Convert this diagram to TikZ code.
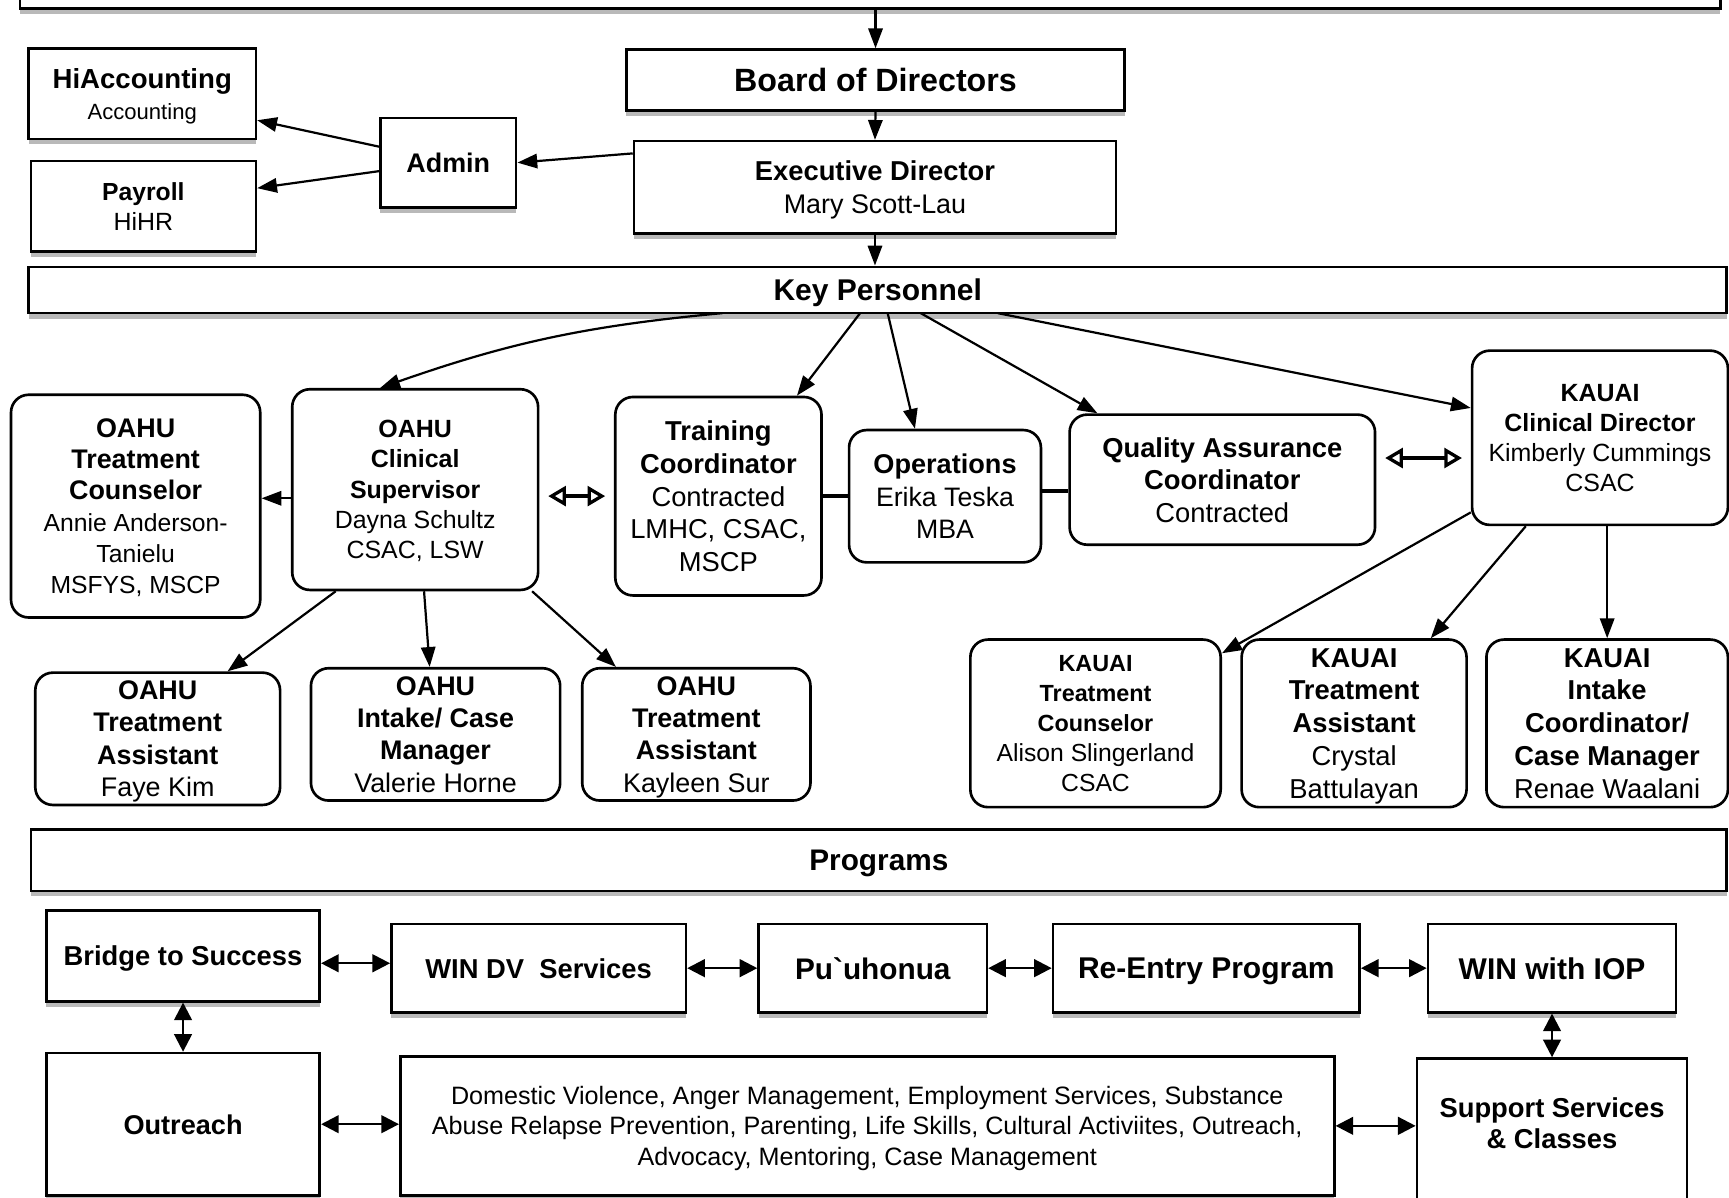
\documentclass[tikz,border=0pt]{standalone}
\usepackage{fontspec}
\setmainfont{Liberation Sans}
\usetikzlibrary{arrows.meta,positioning,calc,shadows}

\newcommand{\hb}[2][12.4]{{\fontsize{#1}{14}\selectfont\bfseries #2}}

\tikzset{
  sq/.style={draw, line width=1.2pt, fill=white, align=center, inner sep=1pt, text depth=0pt,
    font=\fontsize{12.4}{14.5}\selectfont,
    drop shadow={shadow xshift=0pt, shadow yshift=-2.5pt, fill=gray!55, opacity=1}},
  rb/.style={draw, line width=1.2pt, fill=white, align=center, inner sep=1pt, text depth=0pt,
    rounded corners=8pt, font=\fontsize{12.2}{14.7}\selectfont},
  sz/.style 2 args={minimum width=#1pt, minimum height=#2pt},
  fs/.style 2 args={font=\fontsize{#1}{#2}\selectfont},
  arr/.style={-{Triangle[length=9pt,width=6.5pt]}, line width=1pt},
  oarr/.style={{Triangle[open,length=8pt,width=9pt]}-{Triangle[open,length=8pt,width=9pt]},
    line width=1.5pt, shorten <=4pt, shorten >=4pt},
  darr/.style={{Triangle[length=8pt,width=8pt]}-{Triangle[length=8pt,width=8pt]}, line width=1.1pt},
  link/.style={line width=1.8pt}
}

\begin{document}
\begin{tikzpicture}[x=0.5pt,y=-0.5pt]
  \useasboundingbox (0,0) rectangle (1568,1086);
  \clip (0,0) rectangle (1568,1086);
  \fill[white] (0,0) rectangle (1568,1086);

  % management
  \node[sq, sz={771}{24}] (top) at (789,-16) {};
  \node[sq, sz={226}{27.5}] (board) at (794,72.5) {\hb[14.6]{Board of Directors}};
  \node[sq, sz={218.5}{42}, fs={12.2}{15}] (exec) at (793.5,170) {\hb{Executive Director}\\Mary Scott-Lau};
  \node[sq, sz={61.5}{40.5}] (admin) at (406.5,147.5) {\hb[12.2]{Admin}};
  \node[sq, sz={103}{41}, fs={10}{14}] (hiacc) at (129,85) {\hb[12.5]{HiAccounting}\\Accounting};
  \node[sq, sz={102}{41}, fs={11.3}{13.5}] (payroll) at (130,187) {\hb[11.2]{Payroll}\\HiHR};
  \node[sq, sz={770}{21}] (keyp) at (796,263) {\hb[13.6]{Key Personnel}};

  % key personnel
  \node[rb, sz={113}{101}, fs={11.2}{14.2}] (oahutc) at (123,459)
    {\hb[12.2]{OAHU}\\\hb[12.2]{Treatment}\\\hb[12.2]{Counselor}\\Annie Anderson-\\Tanielu\\MSFYS, MSCP};
  \node[rb, sz={111.5}{91}, fs={11.3}{13.75}] (oahucs) at (376.5,444)
    {\hb[11.3]{OAHU}\\\hb[11.3]{Clinical}\\\hb[11.3]{Supervisor}\\Dayna Schultz\\CSAC, LSW};
  \node[rb, sz={93.5}{90}, fs={12.4}{14.8}] (train) at (651.5,450)
    {\hb{Training}\\\hb{Coordinator}\\Contracted\\LMHC, CSAC,\\MSCP};
  \node[rb, sz={87}{60}, fs={12.1}{14.75}] (ops) at (857,450)
    {\hb[12.3]{Operations}\\Erika Teska\\MBA};
  \node[rb, sz={138.5}{59}, fs={12.4}{14.75}] (qa) at (1108.5,435)
    {\hb{Quality Assurance}\\\hb{Coordinator}\\Contracted};
  \node[rb, sz={116}{79}, fs={11.3}{13.7}] (kcd) at (1451,397)
    {\hb[11.3]{KAUAI}\\\hb[11.3]{Clinical Director}\\Kimberly Cummings\\CSAC};

  % staff
  \node[rb, sz={111}{60}] (ota1) at (143,670)
    {\hb[12.2]{OAHU}\\\hb[12.2]{Treatment}\\\hb[12.2]{Assistant}\\Faye Kim};
  \node[rb, sz={113}{60}] (oicm) at (395,666)
    {\hb[12.2]{OAHU}\\\hb[12.2]{Intake/ Case}\\\hb[12.2]{Manager}\\Valerie Horne};
  \node[rb, sz={103.5}{60}] (ota2) at (631.5,666)
    {\hb[12.2]{OAHU}\\\hb[12.2]{Treatment}\\\hb[12.2]{Assistant}\\Kayleen Sur};
  \node[rb, sz={113.5}{76}, fs={11.2}{13.6}] (ktc) at (993.5,656)
    {\hb[10.6]{KAUAI}\\\hb[10.6]{Treatment}\\\hb[10.6]{Counselor}\\Alison Slingerland\\CSAC};
  \node[rb, sz={102}{76}, fs={12.4}{14.9}] (kta) at (1228,656)
    {\hb{KAUAI}\\\hb{Treatment}\\\hb{Assistant}\\Crystal\\Battulayan};
  \node[rb, sz={109.5}{76}, fs={12.4}{14.9}] (kic) at (1457.5,656)
    {\hb{KAUAI}\\\hb{Intake}\\\hb{Coordinator/}\\\hb{Case Manager}\\Renae Waalani};

  % programs
  \node[sq, sz={769}{28}] (programs) at (797,780) {\hb[13.5]{Programs}};
  \node[sq, sz={124}{41}] (bridge) at (166,867) {\hb{Bridge to Success}};
  \node[sq, sz={133.5}{40}] (windv) at (488.5,878) {\hb{WIN DV\ \ Services}};
  \node[sq, sz={103.5}{40}] (puu) at (791.5,878) {\hb[13.5]{Pu\textasciigrave uhonua}};
  \node[sq, sz={139}{40}] (reentry) at (1094,878) {\hb[13.6]{Re-Entry Program}};
  \node[sq, sz={112.5}{40}] (winiop) at (1407.5,878) {\hb[13.6]{WIN with IOP}};
  \node[sq, sz={124}{64.5}] (outreach) at (166,1019.5) {\hb[12.3]{Outreach}};
  \node[sq, sz={423.5}{63}, fs={11.4}{13.75}] (desc) at (786.5,1021)
    {Domestic Violence, Anger Management, Employment Services, Substance\\
     Abuse Relapse Prevention, Parenting, Life Skills, Cultural Activiites, Outreach,\\
     Advocacy, Mentoring, Case Management};
  \node[sq, sz={122.5}{68}, text depth=9.5pt] (support) at (1407.5,1028) {\hb{Support Services}\\\hb{\& Classes}};

  % connectors
  \draw[arr] (board.north |- top.south) -- (board.north);
  \draw[arr] (board.south) -- (exec.north);
  \draw[arr] (exec.172) -- (admin.east);
  \draw[arr] (admin.167) -- (hiacc.347);
  \draw[arr] (admin.187) -- (payroll.9);
  \draw[arr] (exec.south) -- (exec.south |- keyp.north);

  \coordinate (kpA) at (655,284);
  \coordinate (kpB) at (780,284);
  \coordinate (kpC) at (805,284);
  \coordinate (kpD) at (835,284);
  \coordinate (kpE) at (905,284);
  \draw[arr] (kpA) to[bend right=7] (oahucs.109);
  \draw[arr] (kpB) -- (train.52);
  \draw[arr] (kpC) -- (ops.114);
  \draw[arr] (kpD) -- (qa.152);
  \draw[arr] (kpE) -- (kcd.167);

  \draw[arr] (oahucs.184) -- (oahucs.184 -| oahutc.east);
  \draw[oarr] (oahucs.357) -- (oahucs.357 -| train.west);
  \draw[link] (train.east) -- (train.east -| ops.west);
  \draw[link] (ops.3) -- (ops.3 -| qa.west);
  \draw[oarr] (qa.8) -- (qa.8 -| kcd.west);

  \draw[arr] (oahucs.232) -- (ota1.44);
  \draw[arr] (oahucs.275) -- (oicm.95);
  \draw[arr] (oahucs.319) -- (ota2.140);
  \draw[arr] (kcd.210) -- (ktc.29);
  \draw[arr] (kcd.230) -- (kta.48);
  \draw[arr] (kic.north |- kcd.south) -- (kic.north);

  \draw[darr] (bridge.357) -- (bridge.357 -| windv.west);
  \draw[darr] (windv.east) -- (puu.west);
  \draw[darr] (puu.east) -- (reentry.west);
  \draw[darr] (reentry.east) -- (winiop.west);
  \draw[darr] (bridge.south) -- (outreach.north);
  \draw[darr] (outreach.east) -- (outreach.east -| desc.west);
  \draw[darr] (desc.east) -- (desc.east -| support.west);
  \draw[darr] (winiop.south) -- (winiop.south |- support.north);
\end{tikzpicture}
\end{document}
